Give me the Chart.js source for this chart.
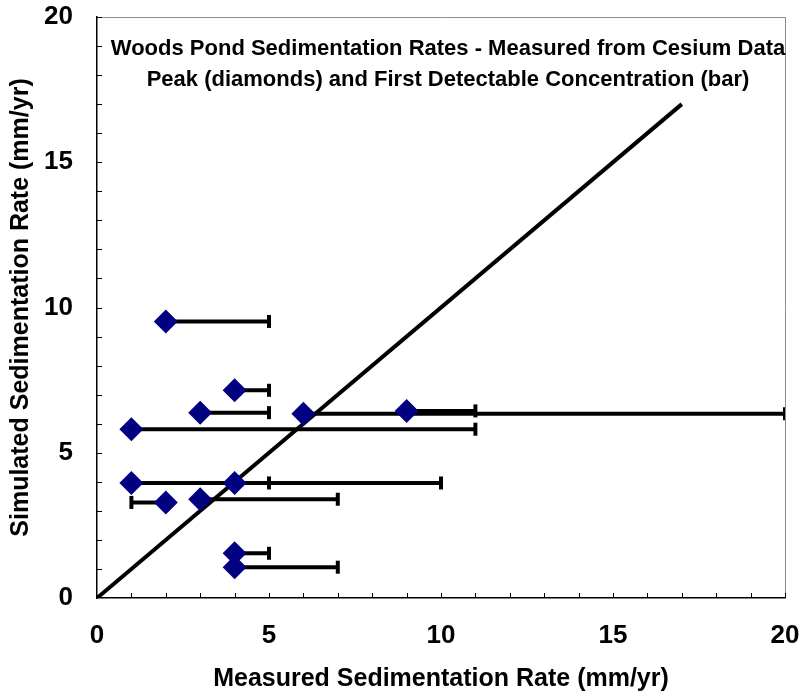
<!DOCTYPE html>
<html>
<head>
<meta charset="utf-8">
<script src="https://cdn.jsdelivr.net/npm/chart.js@4"></script>
<style>
  html, body { margin: 0; padding: 0; background: #fff; }
  #wrap { width: 800px; height: 696px; }
</style>
</head>
<body>
<div id="wrap"><canvas id="myChart" width="800" height="696"></canvas></div>
<script>
// peak (diamond) x, simulated rate y, first detectable concentration (bar end) x
const peakX = [2, 4, 3, 6, 9, 1, 1, 4, 2, 3, 4, 4];
const simY = [9.52, 7.15, 6.38, 6.34, 6.44, 5.81, 3.96, 3.96, 3.29, 3.40, 1.54, 1.06];
const firstX = [5, 5, 5, 20, 11, 11, 10, 5, 1, 7, 5, 7];
const lineX = [0, 17];
const lineY = [0, 17];
const tickValues = [0, 5, 10, 15, 20];
const titleLines = [
    'Woods Pond Sedimentation Rates - Measured from Cesium Data',
    'Peak (diamonds) and First Detectable Concentration (bar)'
];

const FONT = '"Liberation Sans", Arial, sans-serif';

const diamonds = peakX.map((x, i) => ({ x: x, y: simY[i] }));
const caps = firstX.map((x, i) => ({ x: x, y: simY[i] }));

const barSets = peakX.map((x, i) => ({
    type: 'scatter',
    data: [{ x: x, y: simY[i] }, { x: firstX[i], y: simY[i] }],
    showLine: true,
    borderColor: '#000',
    borderWidth: 4,
    pointRadius: 0,
    order: 3
}));

// inner tick marks, grey top/right frame, and the in-plot title
const framePlugin = {
    id: 'frame',
    beforeDatasetsDraw(chart) {
        const { ctx, chartArea: a, scales } = chart;
        ctx.save();
        ctx.strokeStyle = '#8c8c8c';
        ctx.lineWidth = 1;
        ctx.beginPath();
        ctx.moveTo(a.left, a.top + 0.5);
        ctx.lineTo(a.right + 0.5, a.top + 0.5);
        ctx.lineTo(a.right + 0.5, a.bottom);
        ctx.stroke();
        ctx.strokeStyle = '#000';
        ctx.lineWidth = 1;
        ctx.beginPath();
        for (let v = 1; v <= 20; v++) {
            const px = Math.round(scales.x.getPixelForValue(v)) + 0.5;
            ctx.moveTo(px, a.bottom);
            ctx.lineTo(px, a.bottom - 5);
            const py = Math.round(scales.y.getPixelForValue(v)) + 0.5;
            ctx.moveTo(a.left, py);
            ctx.lineTo(a.left + 5, py);
        }
        ctx.stroke();
        ctx.fillStyle = '#000';
        ctx.font = 'bold 22px ' + FONT;
        ctx.textAlign = 'center';
        ctx.textBaseline = 'middle';
        ctx.fillText(titleLines[0], 448, 49);
        ctx.fillText(titleLines[1], 448, 80);
        ctx.restore();
    }
};

const ctx = document.getElementById('myChart').getContext('2d');
const chart = new Chart(ctx, {
    type: 'scatter',
    data: {
        datasets: [
            {
                data: diamonds,
                pointStyle: 'rectRot',
                pointRadius: 12,
                backgroundColor: '#000080',
                borderColor: '#000080',
                borderWidth: 0,
                order: 0
            },
            {
                data: caps,
                pointStyle: 'line',
                rotation: 90,
                pointRadius: 6.5,
                borderColor: '#000',
                borderWidth: 4,
                order: 2
            },
            {
                data: lineX.map((x, i) => ({ x: x, y: lineY[i] })),
                showLine: true,
                borderColor: '#000',
                borderWidth: 4,
                pointRadius: 0,
                order: 1
            },
            ...barSets
        ]
    },
    options: {
        responsive: false,
        animation: false,
        events: [],
        layout: { padding: { left: 0, right: 15, top: 17, bottom: 0 } },
        plugins: {
            legend: { display: false },
            tooltip: { enabled: false }
        },
        scales: {
            x: {
                type: 'linear',
                min: 0,
                max: 20,
                afterFit(scale) {
                    scale.height = 98;
                    scale.paddingLeft = 0;
                    scale.paddingRight = 0;
                },
                afterBuildTicks(scale) { scale.ticks = tickValues.map(v => ({ value: v })); },
                grid: { display: false, drawTicks: false },
                border: { display: true, color: '#000', width: 1.5 },
                ticks: {
                    color: '#000',
                    padding: 22,
                    maxRotation: 0,
                    font: { family: FONT, size: 26, weight: 'bold' }
                },
                title: {
                    display: true,
                    text: 'Measured Sedimentation Rate (mm/yr)',
                    color: '#000',
                    padding: { top: 0, bottom: 2 },
                    font: { family: FONT, size: 25, weight: 'bold' }
                }
            },
            y: {
                type: 'linear',
                min: 0,
                max: 20,
                afterFit(scale) {
                    scale.width = 97;
                    scale.paddingTop = 0;
                    scale.paddingBottom = 0;
                },
                afterBuildTicks(scale) { scale.ticks = tickValues.map(v => ({ value: v })); },
                grid: { display: false, drawTicks: false },
                border: { display: true, color: '#000', width: 1.5 },
                ticks: {
                    color: '#000',
                    padding: 24,
                    font: { family: FONT, size: 26, weight: 'bold' }
                },
                title: {
                    display: true,
                    text: 'Simulated Sedimentation Rate (mm/yr)',
                    color: '#000',
                    padding: { top: 6, bottom: 0 },
                    font: { family: FONT, size: 25, weight: 'bold' }
                }
            }
        }
    },
    plugins: [framePlugin]
});
</script>
</body>
</html>
